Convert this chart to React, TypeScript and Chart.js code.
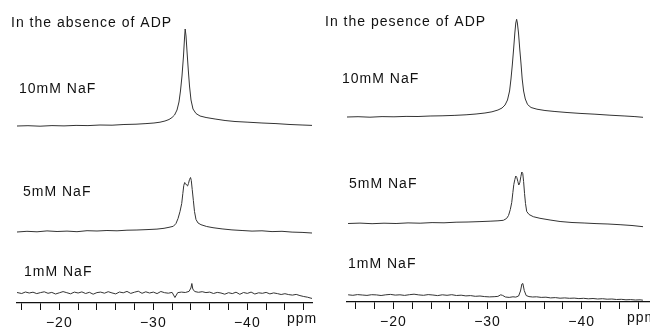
import React, { useEffect, useRef } from 'react';
import { Chart, registerables } from 'chart.js';

Chart.register(...registerables);

type Pt = [number, number];

// ---------- text ----------
const leftTitle = 'In the absence of ADP';
const rightTitle = 'In the pesence of ADP';
const traceLabels = ['10mM NaF', '5mM NaF', '1mM NaF'];
const unitLabel = 'ppm';
const tickStep = 2;
const labelEvery = 10;

// ---------- data: [chemical shift (ppm), intensity] ----------
const absence10: Pt[] = [
  [-15.5, 0], [-16.67, 0.3], [-17.95, -0.2], [-19.22, 0.4], [-20.5, 0.1], [-21.78, 0.6],
  [-23.05, 0.4], [-24.33, 1.0], [-25.61, 0.8], [-26.88, 1.5], [-28.16, 1.8], [-29.22, 2.4],
  [-30.07, 3.0], [-30.71, 3.8], [-31.24, 5.0], [-31.67, 6.5], [-31.99, 8.5], [-32.26, 11],
  [-32.52, 16], [-32.73, 24], [-32.89, 35], [-33.05, 50], [-33.21, 70], [-33.32, 88],
  [-33.39, 97], [-33.48, 90], [-33.59, 74], [-33.72, 56], [-33.85, 40], [-34.01, 26],
  [-34.22, 17], [-34.54, 12.5], [-34.97, 10], [-35.61, 8.5], [-36.57, 7], [-37.63, 5.5],
  [-38.69, 4.5], [-40.07, 3.8], [-41.56, 3.0], [-43.05, 2.4], [-44.54, 1.5], [-45.82, 1.0],
  [-46.88, 0.6],
];

const absence5: Pt[] = [
  [-15.5, -0.5], [-16.56, 0.2], [-17.63, -0.3], [-18.69, 0.6], [-19.76, 0.0], [-20.82, 0.4],
  [-21.88, -0.2], [-22.95, 0.8], [-24.01, 0.5], [-25.07, 1.0], [-26.14, 0.7], [-27.2, 1.3],
  [-28.26, 1.5], [-29.33, 1.9], [-30.39, 2.4], [-31.14, 3.2], [-31.67, 4.2], [-32.13, 5.2],
  [-32.41, 8], [-32.63, 13], [-32.84, 20], [-33.02, 28], [-33.14, 38], [-33.24, 46],
  [-33.34, 49], [-33.43, 48], [-33.53, 46.5], [-33.64, 45.5], [-33.74, 48], [-33.85, 52],
  [-33.96, 54], [-34.04, 51], [-34.14, 42], [-34.26, 31], [-34.38, 20], [-34.54, 12],
  [-34.76, 8.5], [-35.07, 6.8], [-35.68, 5], [-36.35, 3.8], [-37.31, 2.6], [-38.37, 1.6],
  [-39.44, 1.0], [-40.5, 0.4], [-41.56, 0.7], [-42.63, -0.1], [-43.69, 0.2], [-44.76, -0.6],
  [-45.82, -0.9], [-46.88, -1.5],
];

const absence1: Pt[] = [
  [-15.5, 0.5], [-16.0, -0.5], [-16.4, 1.0], [-16.8, 0.0], [-17.2, 0.8], [-17.6, -0.6],
  [-18.0, 0.4], [-18.4, 1.2], [-18.8, -0.3], [-19.2, 0.6], [-19.6, -1.0], [-20.0, 0.2],
  [-20.4, 1.4], [-20.8, 0.3], [-21.2, -0.8], [-21.6, 0.9], [-22.0, 0.0], [-22.4, 1.1],
  [-22.8, -0.5], [-23.2, 0.7], [-23.6, -1.2], [-24.0, 0.4], [-24.4, 0.9], [-24.8, -0.2],
  [-25.2, 1.3], [-25.6, 0.1], [-26.0, -0.9], [-26.4, 1.0], [-26.8, 0.2], [-27.2, 1.6],
  [-27.6, -0.4], [-28.0, 0.8], [-28.4, 1.8], [-28.8, -0.3], [-29.2, 1.2], [-29.6, 0.0],
  [-30.0, 0.9], [-30.4, -0.6], [-30.8, 1.5], [-31.2, 0.3], [-31.6, -0.2], [-32.0, 0.6],
  [-32.3, -4.5], [-32.6, 0.4], [-33.0, 0.9], [-33.4, 0.5], [-33.8, 1.6], [-34.0, 5.0],
  [-34.1, 9.5], [-34.2, 4.0], [-34.4, 1.5], [-34.8, 0.7], [-35.2, 1.3], [-35.6, 0.4],
  [-36.0, 0.9], [-36.4, -0.5], [-36.8, 0.6], [-37.2, 0.0], [-37.6, -1.2], [-38.0, 0.3],
  [-38.4, -0.6], [-38.8, 0.8], [-39.2, -1.3], [-39.6, 0.5], [-40.0, -0.4], [-40.4, 0.9],
  [-40.8, -1.0], [-41.2, 0.2], [-41.6, -0.3], [-42.0, 0.6], [-42.4, -0.9], [-42.8, 0.1],
  [-43.2, -0.6], [-43.6, -1.5], [-44.0, -0.7], [-44.4, -1.6], [-44.8, -2.1], [-45.2, -1.4],
  [-45.6, -2.6], [-46.0, -3.5], [-46.4, -4.2], [-46.9, -5.5],
];

const presence10: Pt[] = [
  [-15.08, 0], [-16.25, 0.3], [-17.52, -0.2], [-18.8, 0.4], [-20.07, 0.2], [-21.35, 0.6],
  [-22.62, 0.5], [-23.9, 1.0], [-25.17, 1.2], [-26.45, 1.6], [-27.72, 2.2], [-28.78, 3.0],
  [-29.73, 4.0], [-30.47, 5.2], [-31.11, 7], [-31.54, 9], [-31.86, 12], [-32.12, 17],
  [-32.34, 26], [-32.49, 38], [-32.63, 52], [-32.77, 68], [-32.9, 84], [-33.0, 94],
  [-33.09, 97.7], [-33.17, 94], [-33.29, 84], [-33.42, 68], [-33.55, 54], [-33.68, 38],
  [-33.83, 26], [-34.01, 18], [-34.25, 12.5], [-34.62, 9.5], [-35.25, 7.8], [-36.1, 6.5],
  [-37.16, 5.5], [-38.44, 4.5], [-39.82, 3.6], [-41.41, 2.8], [-43.0, 1.8], [-44.59, 1.0],
  [-45.65, 0.4], [-46.51, -0.3],
];

const presence5: Pt[] = [
  [-15.19, 0], [-16.46, 0.4], [-17.74, -0.2], [-19.01, 0.3], [-20.29, 0.0], [-21.56, 0.6],
  [-22.84, 0.3], [-24.11, 0.9], [-25.38, 0.7], [-26.66, 1.3], [-27.93, 1.5], [-29.2, 1.9],
  [-30.27, 2.3], [-31.11, 2.7], [-31.68, 3.2], [-32.02, 5], [-32.23, 8], [-32.42, 14],
  [-32.57, 21], [-32.69, 31], [-32.79, 39], [-32.9, 44], [-33.0, 47.5], [-33.11, 46],
  [-33.22, 42], [-33.32, 38.5], [-33.43, 41], [-33.54, 47], [-33.64, 51.5], [-33.74, 50],
  [-33.83, 42], [-33.93, 30], [-34.03, 20], [-34.16, 12], [-34.41, 9], [-34.86, 6.8],
  [-35.57, 5.2], [-36.64, 3.5], [-37.7, 2.0], [-38.97, 1.0], [-40.25, 0.5], [-41.52, -0.1],
  [-42.79, -0.5], [-44.07, -1.2], [-45.34, -2.0], [-46.51, -3.2],
];

const presence1: Pt[] = [
  [-15.2, 0.2], [-15.7, -0.3], [-16.2, 0.4], [-16.7, 0.0], [-17.2, -0.4], [-17.7, 0.3],
  [-18.2, 0.1], [-18.7, -0.5], [-19.2, 0.2], [-19.7, 0.6], [-20.2, -0.1], [-20.7, 0.2],
  [-21.2, -0.4], [-21.7, 0.3], [-22.2, 0.8], [-22.7, 0.1], [-23.2, -0.3], [-23.7, 0.4],
  [-24.2, 0.0], [-24.7, -0.6], [-25.2, 0.2], [-25.7, -0.3], [-26.2, 0.3], [-26.7, -0.5],
  [-27.2, -0.2], [-27.7, -0.9], [-28.2, -0.6], [-28.7, -1.3], [-29.2, -1.0], [-29.7, -1.6],
  [-30.2, -1.9], [-30.7, -1.7], [-31.1, -1.4], [-31.4, 0.2], [-31.6, -0.4], [-31.9, -2.0],
  [-32.3, -2.4], [-32.7, -1.8], [-33.0, -2.1], [-33.3, -1.0], [-33.5, 4.0], [-33.65, 11.0],
  [-33.75, 11.5], [-33.9, 4.5], [-34.1, -0.5], [-34.4, -1.6], [-34.8, -2.0], [-35.2, -1.8],
  [-35.7, -2.4], [-36.2, -2.2], [-36.7, -2.9], [-37.2, -2.6], [-37.7, -3.2], [-38.2, -2.9],
  [-38.7, -3.3], [-39.2, -3.1], [-39.7, -3.6], [-40.2, -3.3], [-40.7, -3.8], [-41.2, -3.5],
  [-41.7, -4.0], [-42.2, -3.7], [-42.7, -4.2], [-43.2, -4.0], [-43.7, -4.5], [-44.2, -4.3],
  [-44.7, -4.8], [-45.2, -4.6], [-45.7, -5.0], [-46.2, -4.8], [-46.5, -5.2],
];

// vertical stacking offsets of the spectra (intensity units)
const absenceOffsets = [177, 71.5, 10];
const presenceOffsets = [185, 78.5, 7];

const FONT = '"Liberation Sans", Arial, Helvetica, sans-serif';
const INK = '#111';
const LINE = '#333';

type LabelPos = { text: string; x: number; y: number };

type PanelCfg = {
  traces: Pt[][];
  offsets: number[];
  ppmLeft: number;
  ppmRight: number;
  areaLeft: number;
  areaRight: number;
  axisY: number;
  labels: LabelPos[];
  unitPos: { x: number; y: number };
};

const W = 325;
const H = 330;

const leftPanel: PanelCfg = {
  traces: [absence10, absence5, absence1],
  offsets: absenceOffsets,
  ppmLeft: -15.5,
  ppmRight: -46.88,
  areaLeft: 17,
  areaRight: 312,
  axisY: 303,
  labels: [
    { text: leftTitle, x: 11, y: 23 },
    { text: traceLabels[0], x: 19, y: 89 },
    { text: traceLabels[1], x: 23, y: 192 },
    { text: traceLabels[2], x: 24, y: 272 },
  ],
  unitPos: { x: 287, y: 323 },
};

const rightPanel: PanelCfg = {
  traces: [presence10, presence5, presence1],
  offsets: presenceOffsets,
  ppmLeft: -15.08,
  ppmRight: -47.25,
  areaLeft: 22,
  areaRight: 325,
  axisY: 302,
  labels: [
    { text: rightTitle, x: 0, y: 22 },
    { text: traceLabels[0], x: 17, y: 79 },
    { text: traceLabels[1], x: 24, y: 184 },
    { text: traceLabels[2], x: 23, y: 264 },
  ],
  unitPos: { x: 302, y: 322 },
};

function makeChart(canvas: HTMLCanvasElement, cfg: PanelCfg) {
  const textPlugin = {
    id: 'panelText',
    beforeDraw(chart: any) {
      (chart.ctx as any).letterSpacing = '1px';
    },
    afterDraw(chart: any) {
      const ctx = chart.ctx as CanvasRenderingContext2D;
      ctx.save();
      (ctx as any).letterSpacing = '1px';
      ctx.fillStyle = INK;
      ctx.font = `14px ${FONT}`;
      ctx.textAlign = 'left';
      ctx.textBaseline = 'middle';
      cfg.labels.forEach((l) => ctx.fillText(l.text, l.x, l.y));
      ctx.textBaseline = 'alphabetic';
      ctx.fillText(unitLabel, cfg.unitPos.x, cfg.unitPos.y);
      ctx.restore();
    },
  };

  return new Chart(canvas, {
    type: 'line',
    data: {
      datasets: cfg.traces.map((tr, i) => ({
        data: tr.map(([x, y]) => ({ x, y: y + cfg.offsets[i] })),
        borderColor: LINE,
        borderWidth: 1,
        pointRadius: 0,
        tension: 0,
        fill: false,
      })),
    },
    options: {
      responsive: false,
      animation: false,
      devicePixelRatio: 1,
      parsing: false as any,
      layout: { padding: { left: cfg.areaLeft, right: W - cfg.areaRight, top: 0, bottom: 0 } },
      plugins: { legend: { display: false }, tooltip: { enabled: false }, title: { display: false } },
      events: [],
      scales: {
        x: {
          type: 'linear',
          reverse: true,
          min: cfg.ppmRight,
          max: cfg.ppmLeft,
          afterFit: (s: any) => {
            s.height = H - cfg.axisY;
          },
          grid: {
            display: true,
            drawOnChartArea: false,
            drawTicks: true,
            tickLength: 7,
            color: INK,
            lineWidth: 1,
          },
          border: { display: true, color: INK, width: 1.3 },
          ticks: {
            stepSize: tickStep,
            includeBounds: false,
            autoSkip: false,
            maxRotation: 0,
            minRotation: 0,
            padding: 5,
            color: INK,
            font: { family: FONT, size: 14 },
            callback: (v: any) => {
              const n = Number(v);
              return Math.abs(n % labelEvery) < 1e-6 ? '\u2212' + Math.abs(n) : '';
            },
          },
        },
        y: {
          type: 'linear',
          display: false,
          min: 0,
          max: cfg.axisY,
        },
      },
    } as any,
    plugins: [textPlugin],
  });
}

function Panel({ cfg, left }: { cfg: PanelCfg; left: number }) {
  const ref = useRef<HTMLCanvasElement>(null);
  useEffect(() => {
    if (!ref.current) return;
    const chart = makeChart(ref.current, cfg);
    return () => chart.destroy();
  }, [cfg]);
  return (
    <canvas
      ref={ref}
      width={W}
      height={H}
      style={{ position: 'absolute', left, top: 0, width: W, height: H, display: 'block' }}
    />
  );
}

export default function App() {
  return (
    <div style={{ position: 'absolute', left: 0, top: 0, width: 650, height: 330, background: '#fff', overflow: 'hidden' }}>
      <Panel cfg={leftPanel} left={0} />
      <Panel cfg={rightPanel} left={325} />
    </div>
  );
}
